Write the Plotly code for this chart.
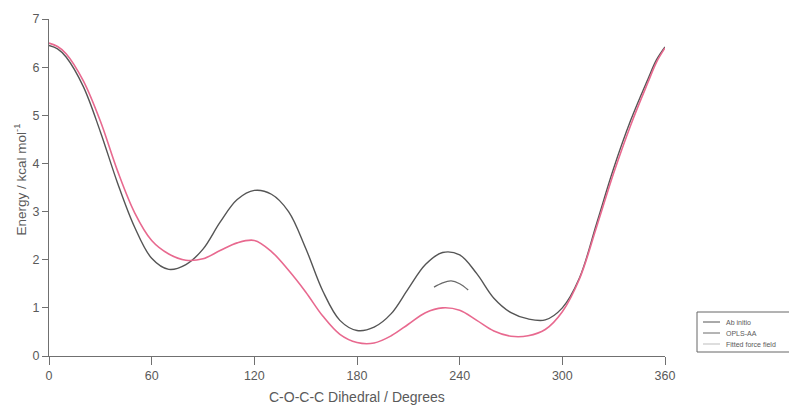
import plotly.graph_objects as go

# C-O-C-C dihedral scan (degrees) and relative energies (kcal/mol)
dihedral = [0, 5, 10, 20, 30, 40, 50, 60, 70, 80, 90, 100, 110, 120, 130, 140, 150,
            160, 170, 180, 190, 200, 210, 220, 230, 240, 250, 260, 270, 280, 290,
            300, 310, 320, 330, 340, 350, 355, 360]

ab_initio = [6.45, 6.38, 6.21, 5.6, 4.66, 3.6, 2.68, 2.03, 1.8, 1.9, 2.22, 2.78, 3.25,
             3.44, 3.36, 3.0, 2.24, 1.35, 0.74, 0.53, 0.6, 0.88, 1.4, 1.9, 2.15,
             2.1, 1.71, 1.2, 0.9, 0.77, 0.75, 1.0, 1.62, 2.75, 3.9, 4.9, 5.75, 6.15, 6.42]

fitted = [6.5, 6.43, 6.28, 5.72, 4.88, 3.85, 2.98, 2.4, 2.12, 1.99, 2.02, 2.19, 2.35,
          2.4, 2.17, 1.78, 1.33, 0.83, 0.45, 0.28, 0.27, 0.42, 0.66, 0.9, 1.0, 0.95,
          0.74, 0.52, 0.41, 0.42, 0.55, 0.92, 1.6, 2.68, 3.8, 4.8, 5.68, 6.1, 6.4]

opls_dihedral = [225, 230, 235, 240, 245]
opls_aa = [1.43, 1.52, 1.56, 1.5, 1.37]

series_names = ["Ab initio", "OPLS-AA", "Fitted force field"]
x_ticks = [0, 60, 120, 180, 240, 300, 360]
y_ticks = [0, 1, 2, 3, 4, 5, 6, 7]

dark = "#555555"
mid = "#6a6a6a"
pink = "#e8698f"
text_col = "#5a5a5a"
font_family = "Liberation Sans Narrow, Arial Narrow, Liberation Sans, sans-serif"

fig = go.Figure()
fig.add_trace(go.Scatter(x=dihedral, y=ab_initio, mode="lines", name=series_names[0],
                         line=dict(color=dark, width=1.4, shape="spline", smoothing=1.0)))
fig.add_trace(go.Scatter(x=opls_dihedral, y=opls_aa, mode="lines", name=series_names[1],
                         line=dict(color=mid, width=1.3, shape="spline", smoothing=1.0)))
fig.add_trace(go.Scatter(x=dihedral, y=fitted, mode="lines", name=series_names[2],
                         line=dict(color=pink, width=1.6, shape="spline", smoothing=1.0)))

fig.update_layout(
    width=789, height=406,
    margin=dict(l=49, r=124, t=19, b=50),
    paper_bgcolor="white", plot_bgcolor="white",
    showlegend=False,
    font=dict(family=font_family, color=text_col, size=12),
)
fig.update_xaxes(
    range=[0, 360], tickvals=x_ticks, ticktext=[str(v) for v in x_ticks],
    showgrid=False, zeroline=False, showline=True, linecolor="#707070", linewidth=1,
    ticks="outside", ticklen=8, tickcolor="#707070", automargin=False,
    tickfont=dict(size=12.5),
)
fig.update_yaxes(
    range=[0, 7], tickvals=y_ticks, ticktext=[str(v) for v in y_ticks],
    showgrid=False, zeroline=False, showline=True, linecolor="#707070", linewidth=1,
    ticks="outside", ticklen=6, tickcolor="#707070", automargin=False,
    tickfont=dict(size=12.5),
)

# Axis titles placed in pixel offsets from the plot area
fig.add_annotation(xref="paper", yref="paper", x=0.5, y=0, yshift=-41,
                   text="C-O-C-C Dihedral / Degrees", showarrow=False,
                   xanchor="center", yanchor="middle", font=dict(size=14, color=text_col))
fig.add_annotation(xref="paper", yref="paper", x=0, y=0.5, xshift=-29, yshift=8,
                   text="Energy / kcal mol<sup>-1</sup>", showarrow=False, textangle=-90,
                   xanchor="center", yanchor="middle", font=dict(size=13.5, color=text_col))

# Compact legend box in the lower-right corner
lx0, lx1 = 697, 795
ly0, ly1 = 312, 352
fig.add_shape(type="rect", xref="paper", yref="paper",
              x0=(lx0 - 49) / 616, x1=(lx1 - 49) / 616,
              y0=(356 - ly1) / 337, y1=(356 - ly0) / 337,
              line=dict(color="#666666", width=1), fillcolor="white", layer="above")
legend_colors = [dark, mid, "#bdbdbd"]
for i, (name, col) in enumerate(zip(series_names, legend_colors)):
    yy = 322 + i * 11
    yp = (356 - yy) / 337
    fig.add_shape(type="line", xref="paper", yref="paper",
                  x0=(703 - 49) / 616, x1=(720 - 49) / 616, y0=yp, y1=yp,
                  line=dict(color=col, width=1), layer="above")
    fig.add_annotation(xref="paper", yref="paper", x=(724 - 49) / 616, y=yp,
                       text=name, showarrow=False, xanchor="left", yanchor="middle",
                       font=dict(size=7, color=text_col, family=font_family))

fig.write_html("out.html")
